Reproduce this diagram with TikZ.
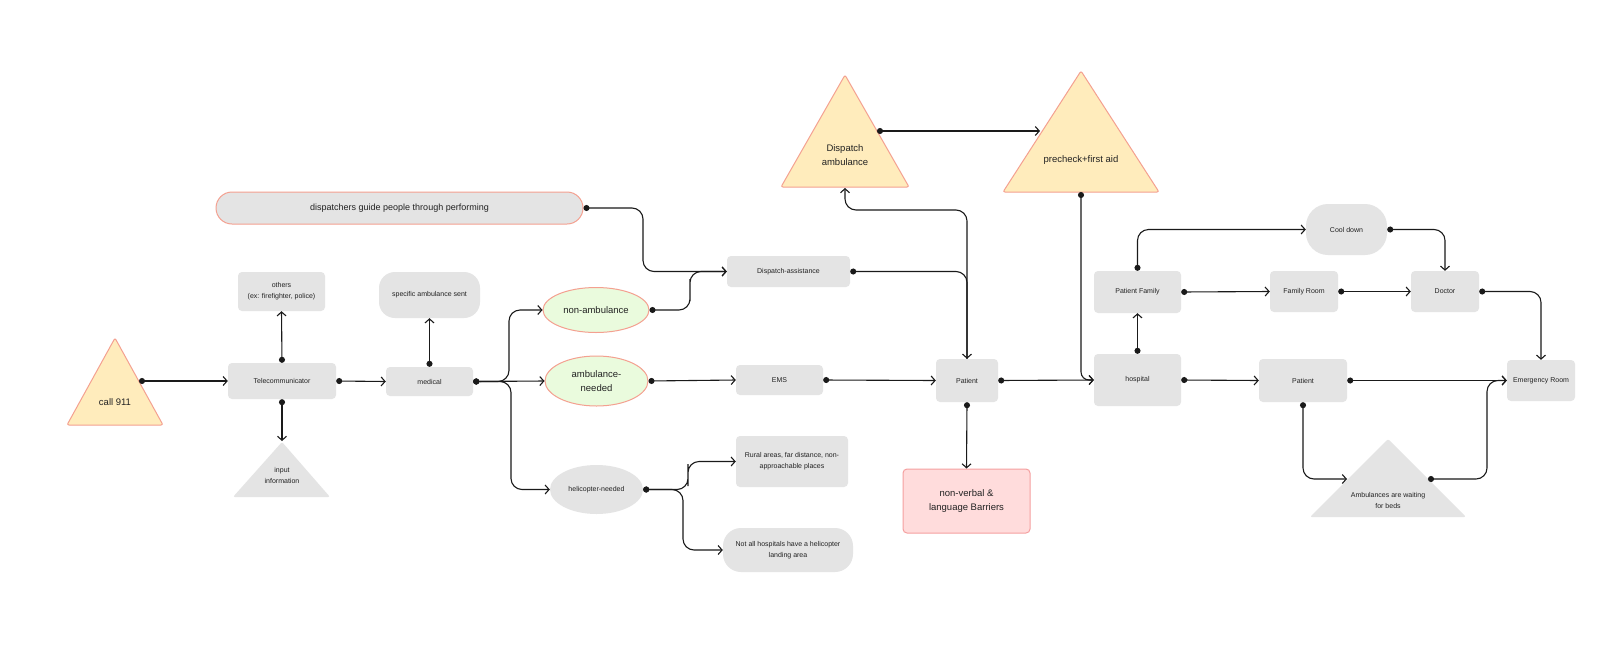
\documentclass[tikz,border=0pt]{standalone}
\usepackage{fontspec}
\setmainfont{Liberation Sans}
\usetikzlibrary{arrows.meta,shapes.geometric}
\definecolor{boxgray}{HTML}{E4E4E4}
\definecolor{yel}{HTML}{FFECBC}
\definecolor{salmon}{HTML}{F4A090}
\definecolor{grn}{HTML}{EAFBDD}
\definecolor{pinkf}{HTML}{FFDCDC}
\definecolor{pinkb}{HTML}{F5A0A0}
\definecolor{ink}{HTML}{1A1A1A}
\definecolor{txt}{HTML}{222222}
\tikzset{
  gbox/.style={fill=boxgray, draw=none, rounded corners=4pt, inner sep=0pt, align=center, text=txt, font=\fontsize{7}{11}\selectfont},
  pill/.style={gbox, rounded corners=#1},
  oval/.style={ellipse, fill=grn, draw=salmon, line width=1pt, inner sep=0pt, align=center, text=txt, font=\fontsize{9.5}{14}\selectfont},
  goval/.style={ellipse, fill=boxgray, draw=none, inner sep=0pt, align=center, text=txt, font=\fontsize{7}{11}\selectfont},
  ytri/.style={fill=yel, draw=salmon, line width=1pt, rounded corners=2pt},
  gtri/.style={fill=boxgray, draw=none, rounded corners=2pt},
  bigtxt/.style={align=center, text=txt, inner sep=0pt, font=\fontsize{9.5}{14}\selectfont},
  smtxt/.style={align=center, text=txt, inner sep=0pt, font=\fontsize{7}{11}\selectfont},
  conn/.style={draw=ink, line width=1.1pt, rounded corners=11pt, {Circle[length=6pt]}-{Straight Barb[length=4pt,width=9pt]}},
  connnd/.style={draw=ink, line width=1.1pt, rounded corners=11pt, -{Straight Barb[length=4pt,width=9pt]}},
}
\begin{document}
\begin{tikzpicture}[x=1pt,y=-1pt]
\useasboundingbox (0,0) rectangle (1613,651);
\fill[white] (0,0) rectangle (1613,651);

% triangles
\draw[ytri] (115,338) -- (163,425) -- (67,425) -- cycle;
\node[bigtxt] (call) at (115,402) {call 911};
\coordinate (callD) at (139,381);

\draw[gtri] (282,442) -- (330,497) -- (233,497) -- cycle;
\node[smtxt] (inp) at (282,475) {input\\information};
\coordinate (inpA) at (282,441);

\draw[ytri] (845,75) -- (909,187) -- (781,187) -- cycle;
\node[bigtxt] (dsp) at (845,155) {Dispatch\\ambulance};
\coordinate (dspD) at (877,131);
\coordinate (dspB) at (845,188);

\draw[ytri] (1081,71) -- (1159,192) -- (1003,192) -- cycle;
\node[bigtxt] (pre) at (1081,160) {precheck+first aid};
\coordinate (preL) at (1040,131);
\coordinate (preB) at (1081,192);

\draw[gtri] (1388,439) -- (1466,517) -- (1310,517) -- cycle;
\node[smtxt] (amw) at (1388,500) {Ambulances are waiting\\for beds};
\coordinate (amwL) at (1347,479);
\coordinate (amwD) at (1428,479);

% boxes
\node[gbox, minimum width=108pt, minimum height=36pt] (tele) at (282,381) {Telecommunicator};
\node[gbox, minimum width=87pt, minimum height=39pt] (oth) at (281.5,291.5) {others\\(ex: firefighter, police)};
\node[gbox, minimum width=87pt, minimum height=29pt] (med) at (429.5,381.5) {medical};
\node[pill=16pt, minimum width=101pt, minimum height=46pt] (spec) at (429.5,295) {specific ambulance sent};
\node[gbox, rounded corners=16pt, draw=salmon, line width=1pt, minimum width=367pt, minimum height=32pt, font=\fontsize{9}{12}\selectfont] (dg) at (399.5,208) {dispatchers guide people through performing};
\node[gbox, minimum width=123pt, minimum height=31pt] (da) at (788.5,271.5) {Dispatch-assistance};
\node[oval, minimum width=106pt, minimum height=45pt] (nona) at (596,310) {non-ambulance};
\node[oval, minimum width=103pt, minimum height=50pt] (ambn) at (596.5,381) {ambulance-\\needed};
\node[goval, minimum width=93pt, minimum height=49pt] (heli) at (596.5,489.5) {helicopter-needed};
\node[gbox, minimum width=87pt, minimum height=30pt] (ems) at (779.5,380) {EMS};
\node[gbox, minimum width=112pt, minimum height=51pt] (rur) at (792,461.5) {Rural areas, far distance, non-\\approachable places};
\node[pill=18pt, minimum width=130pt, minimum height=44pt] (nah) at (788,550) {Not all hospitals have a helicopter\\landing area};
\node[gbox, minimum width=62pt, minimum height=43pt] (pat) at (967,380.5) {Patient};
\node[gbox, fill=pinkf, draw=pinkb, line width=1pt, minimum width=127pt, minimum height=64pt, font=\fontsize{9.5}{14}\selectfont] (nv) at (966.5,501) {non-verbal \&\\language Barriers};
\node[gbox, minimum width=87pt, minimum height=52pt] (hosp) at (1137.5,380) {hospital};
\node[gbox, minimum width=87pt, minimum height=42pt] (pf) at (1137.5,292) {Patient Family};
\node[pill=22pt, minimum width=81pt, minimum height=51pt] (cool) at (1346.5,229.5) {Cool down};
\node[gbox, minimum width=68pt, minimum height=41pt] (fr) at (1304,291.5) {Family Room};
\node[gbox, minimum width=68pt, minimum height=41pt] (doc) at (1445,291.5) {Doctor};
\node[gbox, minimum width=68pt, minimum height=41pt] (er) at (1541,380.5) {Emergency Room};
\node[gbox, minimum width=88pt, minimum height=43pt] (pat2) at (1303,380.5) {Patient};

% connectors
\draw[conn] (callD) -- (tele.west);
\draw[conn] (tele.east) -- (med.west);
\draw[conn] (tele.north) -- (oth.south);
\draw[conn] (tele.south) -- (inpA);
\draw[conn] (med.north) -- (spec.south);
\draw[conn] (med.east) -| (509,345) |- (nona.west);
\draw[conn] (med.east) -- (ambn.west);
\draw[conn] (med.east) -| (511,440) |- (heli.west);
\draw[conn] (nona.east) -| (690,290) |- (da.west);
\draw[conn] (dg.east) -| (643,240) |- (da.west);
\draw[conn] (ambn.east) -- (ems.west);
\draw[conn] (ems.east) -- (pat.west);
\draw[conn] (heli.east) -| (688,475) |- (rur.west);
\draw[conn] (heli.east) -| (683,520) |- (nah.west);
\draw[conn] (da.east) -| (pat.north);
\draw[connnd] (pat.north) -- (967,210) -| (dspB);
\draw[conn] (dspD) -- (preL);
\draw[conn, rounded corners=8pt] (preB) |- (hosp.west);
\draw[conn] (pat.east) -- (hosp.west);
\draw[conn] (pat.south) -- (nv.north);
\draw[conn] (hosp.north) -- (pf.south);
\draw[conn] (hosp.east) -- (pat2.west);
\draw[conn] (pf.north) |- (cool.west);
\draw[conn] (pf.east) -- (fr.west);
\draw[conn] (fr.east) -- (doc.west);
\draw[conn] (cool.east) -| (doc.north);
\draw[conn] (doc.east) -| (er.north);
\draw[conn] (pat2.east) -- (er.west);
\draw[conn] (pat2.south) |- (amwL);
\draw[conn] (amwD) -| (1487,430) |- (er.west);
\end{tikzpicture}
\end{document}
